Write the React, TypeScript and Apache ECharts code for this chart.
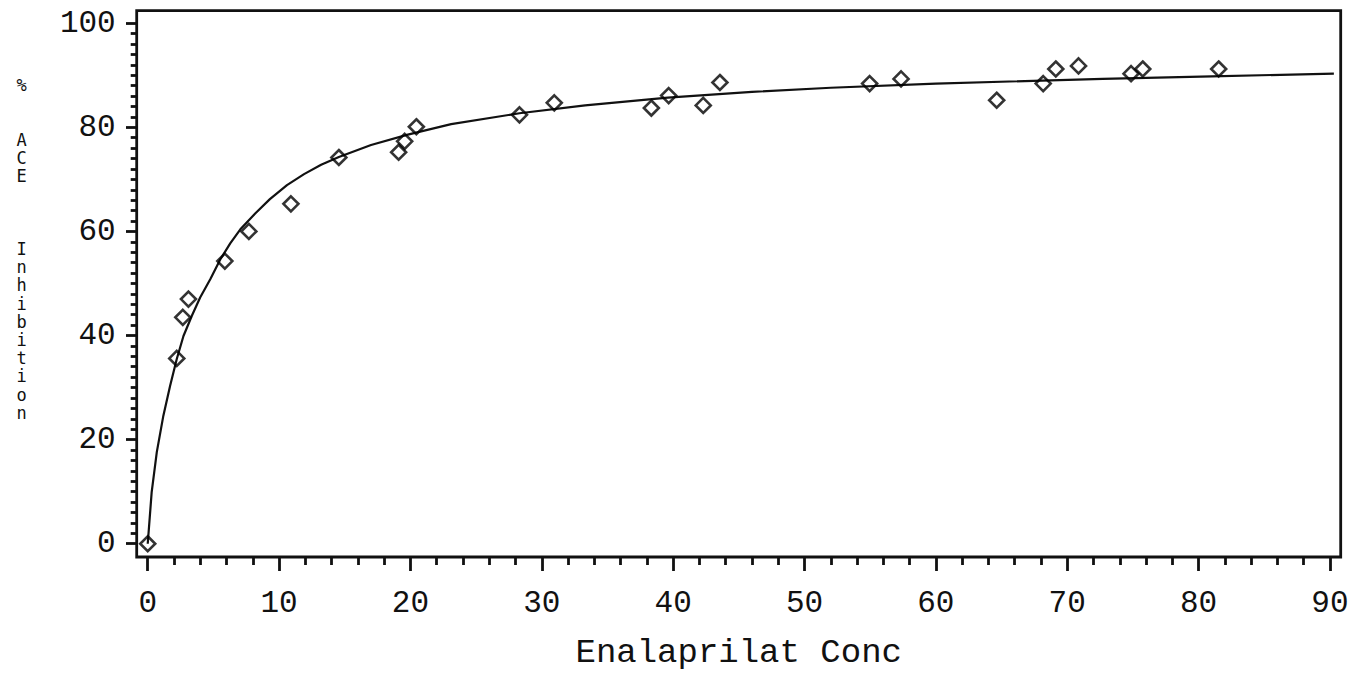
import React, { useEffect, useRef } from 'react';
import * as echarts from 'echarts';

const concentration = [0, 2.21, 2.67, 3.1, 5.87, 7.7, 10.9, 14.55, 19.1, 19.56, 20.45, 28.3, 30.95, 38.34, 39.66, 42.29, 43.56, 54.96, 57.35, 64.63, 68.17, 69.13, 70.86, 74.86, 75.75, 81.53];
const inhibition = [0, 35.6, 43.5, 47.0, 54.3, 60.0, 65.3, 74.2, 75.2, 77.3, 80.1, 82.4, 84.7, 83.7, 86.1, 84.2, 88.6, 88.4, 89.3, 85.2, 88.4, 91.2, 91.8, 90.3, 91.2, 91.2];

// Fitted curve
const fitConc = [0, 0.3, 0.69, 1.19, 1.7, 2.21, 2.72, 3.36, 3.99, 4.76, 5.52, 6.28, 7.05, 8.2, 9.3, 10.6, 11.9, 13.2, 14.55, 17, 19.8, 23.1, 28.3, 33.3, 39.6, 46, 52, 60, 72.7, 81, 90.3];
const fitInhibition = [0, 9.9, 17.6, 24.6, 30.3, 35.5, 39.9, 43.8, 47.3, 50.8, 54.6, 57.7, 60.4, 63.5, 66.2, 68.9, 71.0, 72.8, 74.3, 76.6, 78.6, 80.6, 82.7, 84.2, 85.7, 86.8, 87.6, 88.4, 89.3, 89.8, 90.3];

// Tick values
const xMajorTicks = [0, 10, 20, 30, 40, 50, 60, 70, 80, 90];
const xMinorTicks = [2, 4, 6, 8, 12, 14, 16, 18, 22, 24, 26, 28, 32, 34, 36, 38, 42, 44, 46, 48, 52, 54, 56, 58, 62, 64, 66, 68, 72, 74, 76, 78, 82, 84, 86, 88];
const yMajorTicks = [0, 20, 40, 60, 80, 100];
const yMinorTicks = [2, 4, 6, 8, 10, 12, 14, 16, 18, 22, 24, 26, 28, 30, 32, 34, 36, 38, 42, 44, 46, 48, 50, 52, 54, 56, 58, 62, 64, 66, 68, 70, 72, 74, 76, 78, 82, 84, 86, 88, 90, 92, 94, 96, 98];

// Axis (frame) extents
const xRange = [-0.84, 90.82];
const yRange = [-2.55, 102.4];

const xTitle = 'Enalaprilat Conc';
const yTitleLines = ['%', '', '', 'A', 'C', 'E', '', '', '', 'I', 'n', 'h', 'i', 'b', 'i', 't', 'i', 'o', 'n'];

export default function App() {
  const ref = useRef<HTMLDivElement>(null);
  useEffect(() => {
    const chart = echarts.init(ref.current!, null, { renderer: 'svg' });
    const mono = '"Liberation Mono", "DejaVu Sans Mono", monospace';
    const ink = '#111111';
    const tickStyle = { color: ink, width: 2.8 };
    const hiddenLine = { show: false, onZero: false };
    chart.setOption({
      animation: false,
      backgroundColor: '#ffffff',
      grid: { left: 136.7, right: 21.3, top: 10.7, bottom: 116.7, show: true, borderColor: ink, borderWidth: 2.8, backgroundColor: 'transparent' },
      xAxis: [
        {
          type: 'value', min: xRange[0], max: xRange[1], position: 'bottom',
          axisLine: hiddenLine,
          axisTick: { show: true, length: 14, customValues: xMajorTicks, lineStyle: tickStyle },
          splitLine: { show: false },
          axisLabel: { margin: 31, color: ink, fontFamily: mono, fontSize: 31, customValues: xMajorTicks, showMinLabel: true, showMaxLabel: true },
          name: xTitle, nameLocation: 'middle', nameGap: 79,
          nameTextStyle: { color: ink, fontFamily: mono, fontSize: 34 },
        },
        {
          type: 'value', min: xRange[0], max: xRange[1], position: 'bottom', offset: 0,
          axisLine: hiddenLine,
          axisTick: { show: true, length: 8, customValues: xMinorTicks, lineStyle: tickStyle },
          splitLine: { show: false },
          axisLabel: { show: false },
        },
      ],
      yAxis: [
        {
          type: 'value', min: yRange[0], max: yRange[1], position: 'left',
          axisLine: hiddenLine,
          axisTick: { show: true, length: 10.7, customValues: yMajorTicks, lineStyle: tickStyle },
          splitLine: { show: false },
          axisLabel: { margin: 21, color: ink, fontFamily: mono, fontSize: 31, padding: [12, 0, 0, 0], customValues: yMajorTicks, showMinLabel: true, showMaxLabel: true },
        },
        {
          type: 'value', min: yRange[0], max: yRange[1], position: 'left', offset: 0,
          axisLine: hiddenLine,
          axisTick: { show: true, length: 6, customValues: yMinorTicks, lineStyle: tickStyle },
          splitLine: { show: false },
          axisLabel: { show: false },
        },
      ],
      series: [
        {
          type: 'line', data: fitConc.map((c, i) => [c, fitInhibition[i]]),
          showSymbol: false, smooth: false, clip: false,
          lineStyle: { color: ink, width: 2.2 }, z: 2,
        },
        {
          type: 'scatter', data: concentration.map((c, i) => [c, inhibition[i]]),
          symbol: 'diamond', symbolSize: 15, clip: false,
          itemStyle: { color: 'rgba(255,255,255,0)', borderColor: '#000', borderWidth: 2.6 }, z: 3,
        },
      ],
      graphic: [
        {
          type: 'text', x: 21.7, y: 76, z: 10,
          style: {
            text: yTitleLines.join('\n'), fill: ink, font: `17px "DejaVu Sans Mono", monospace`,
            textAlign: 'center', textVerticalAlign: 'top', lineHeight: 18.2,
          },
        },
      ],
    });
    return () => chart.dispose();
  }, []);
  return <div ref={ref} style={{ position: 'fixed', left: 0, top: 0, width: 1362, height: 675 }} />;
}
